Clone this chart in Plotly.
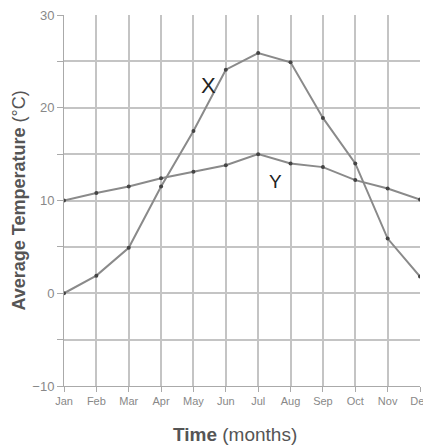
import plotly.graph_objects as go

months = ["Jan", "Feb", "Mar", "Apr", "May", "Jun", "Jul", "Aug", "Sep", "Oct", "Nov", "Dec"]
x_temps = [0, 1.9, 4.9, 11.5, 17.5, 24.1, 25.9, 24.9, 18.9, 14.0, 5.9, 1.8]
y_temps = [10, 10.8, 11.5, 12.4, 13.1, 13.8, 15.0, 14.0, 13.6, 12.2, 11.3, 10.1]
y_ticks = [-10, -5, 0, 5, 10, 15, 20, 25, 30]
y_ticklabels = ["−10", "", "0", "", "10", "", "20", "", "30"]

fig = go.Figure()
for vals in (x_temps, y_temps):
    fig.add_trace(go.Scatter(
        x=list(range(len(months))), y=vals, mode="lines+markers",
        line=dict(color="#8a8a8a", width=2),
        marker=dict(color="#444444", size=4),
        showlegend=False, hoverinfo="skip"))

fig.add_annotation(x=4.46, y=22.4, text="X", showarrow=False,
                   font=dict(family="Liberation Sans", size=22, color="#222"))
fig.add_annotation(x=6.52, y=12.1, text="Y", showarrow=False,
                   font=dict(family="Liberation Sans", size=19, color="#222"))

# axis titles
fig.add_annotation(xref="paper", yref="paper", x=0, y=0.5, xshift=-46,
                   xanchor="center", yanchor="middle",
                   textangle=-90, showarrow=False,
                   text="<b>Average Temperature</b> (°C)",
                   font=dict(family="Liberation Sans", size=18, color="#555"))
fig.add_annotation(xref="paper", yref="paper", x=0.48, y=0, yshift=-48,
                   xanchor="center", yanchor="middle",
                   showarrow=False, text="<b>Time</b> (months)",
                   font=dict(family="Liberation Sans", size=19, color="#555"))

fig.update_layout(
    width=431, height=439,
    margin=dict(l=56, r=19, t=7, b=61),
    paper_bgcolor="white", plot_bgcolor="white",
    font=dict(family="Liberation Sans", color="#777"),
    xaxis=dict(
        range=[0, 11], tickvals=list(range(len(months))), ticktext=months,
        showgrid=True, gridcolor="#c4c4c4", gridwidth=1.5,
        ticks="outside", ticklen=5, tickcolor="#aaa",
        showline=True, linecolor="#aaa", zeroline=False, automargin=False,
        ticklabeloverflow="allow",
        tickfont=dict(size=11, color="#888"),
    ),
    yaxis=dict(
        range=[-10, 30], tickvals=y_ticks, ticktext=y_ticklabels,
        showgrid=True, gridcolor="#c4c4c4", gridwidth=1.5,
        ticks="outside", ticklen=6, tickcolor="#aaa",
        showline=True, linecolor="#aaa", zeroline=False, automargin=False,
        ticklabeloverflow="allow",
        tickfont=dict(size=13, color="#888"),
    ),
)

fig.write_html("out.html")
